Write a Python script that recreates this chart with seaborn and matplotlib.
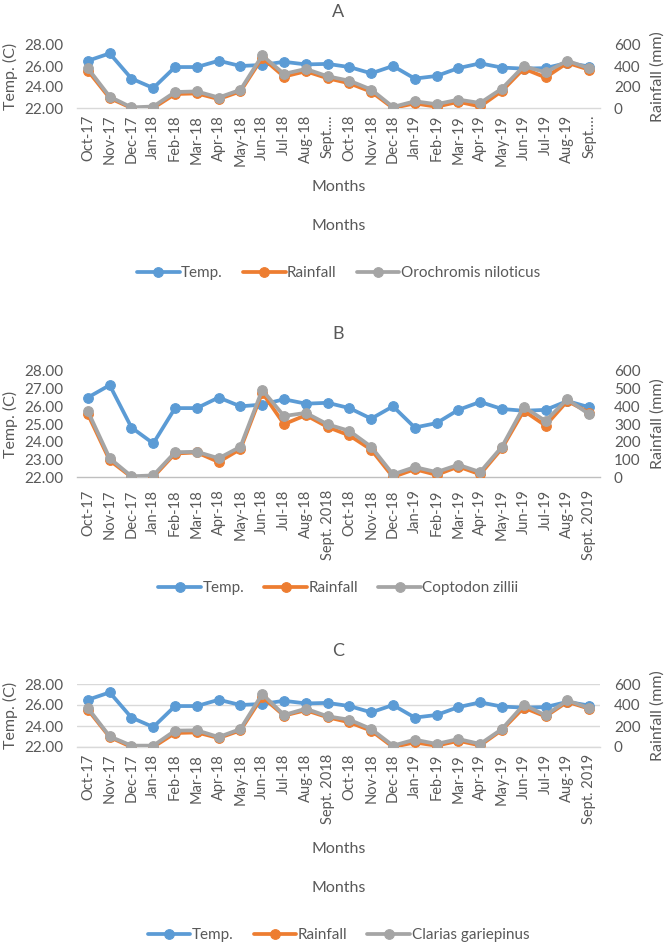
import numpy as np
import pandas as pd
import matplotlib
matplotlib.use("Agg")
import matplotlib.pyplot as plt
import seaborn as sns

# ---------------- data ----------------
months = ["Oct-17", "Nov-17", "Dec-17", "Jan-18", "Feb-18", "Mar-18", "Apr-18",
          "May-18", "Jun-18", "Jul-18", "Aug-18", "Sept. 2018", "Oct-18", "Nov-18",
          "Dec-18", "Jan-19", "Feb-19", "Mar-19", "Apr-19", "May-19", "Jun-19",
          "Jul-19", "Aug-19", "Sept. 2019"]
months_a = ["Oct-17", "Nov-17", "Dec-17", "Jan-18", "Feb-18", "Mar-18", "Apr-18",
            "May-18", "Jun-18", "Jul-18", "Aug-18", "Sept.…", "Oct-18", "Nov-18",
            "Dec-18", "Jan-19", "Feb-19", "Mar-19", "Apr-19", "May-19", "Jun-19",
            "Jul-19", "Aug-19", "Sept.…"]

temp = [26.5, 27.2, 24.8, 23.9, 25.9, 25.9, 26.5, 26.0, 26.1, 26.4, 26.15, 26.2,
        25.9, 25.3, 26.0, 24.8, 25.05, 25.8, 26.25, 25.85, 25.75, 25.8, 26.3, 25.95]
rainfall = [355, 94, 0, 0, 133, 139, 85, 158, 478, 299, 350, 283,
            235, 155, 0, 44, 12, 59, 15, 162, 375, 291, 430, 365]
orochromis = [378, 108, 6, 14, 152, 158, 100, 173, 500, 325, 372, 302,
              260, 176, 10, 64, 36, 80, 48, 185, 398, 340, 450, 378]
coptodon = [372, 106, 4, 9, 140, 143, 106, 171, 493, 345, 363, 298,
            261, 171, 15, 56, 28, 69, 28, 171, 397, 317, 441, 355]
clarias = [371, 101, 13, 13, 156, 159, 95, 171, 505, 305, 365, 292,
           260, 171, 13, 70, 29, 76, 29, 171, 403, 302, 444, 371]

# ---------------- style ----------------
sns.set_theme(style="white")
plt.rcParams["font.family"] = ["Lato", "DejaVu Sans"]

BLUE = "#5B9BD5"
ORANGE = "#ED7D31"
GRAY = "#A5A5A5"
TXT = "#595959"
LINE = "#D9D9D9"

W, H = 672, 944
fig = plt.figure(figsize=(W / 100, H / 100), dpi=100)

left_px, right_px = 77, 600


def rect(top_px, bottom_px):
    return [left_px / W, 1 - bottom_px / H, (right_px - left_px) / W, (bottom_px - top_px) / H]


def panel(top_px, bottom_px, title, title_y, species_name, species_vals, labels,
          temp_ticks, rain_ticks, style, months_ys, legend_y):
    ax = fig.add_axes(rect(top_px, bottom_px))
    ax2 = ax.twinx()
    x = np.arange(len(months))
    df = pd.DataFrame({"idx": x, "Temp.": temp, "Rainfall": rainfall,
                       species_name: species_vals})
    kw = dict(marker="o", markersize=7, linewidth=2.7, legend=False)
    sns.lineplot(data=df, x="idx", y="Temp.", ax=ax, color=BLUE,
                 markeredgecolor=BLUE, **kw)
    sns.lineplot(data=df, x="idx", y="Rainfall", ax=ax2, color=ORANGE,
                 markeredgecolor=ORANGE, **kw)
    sns.lineplot(data=df, x="idx", y=species_name, ax=ax2, color=GRAY,
                 markeredgecolor=GRAY, **kw)

    ax.set_xlim(-0.5, len(months) - 0.5)
    ax.set_ylim(22, 28)
    ax2.set_ylim(0, 600)
    ax.set_yticks(temp_ticks)
    ax.set_yticklabels([f"{t:.2f}" for t in temp_ticks])
    ax2.set_yticks(rain_ticks)
    ax2.set_yticklabels([f"{r:d}" for r in rain_ticks])
    ax.set_xticks(x)
    ax.set_xticklabels(labels, rotation=90)

    ax.tick_params(axis="y", length=0, pad=10, labelcolor=TXT, labelsize=11)
    ax2.tick_params(axis="y", length=0, pad=10, labelcolor=TXT, labelsize=11)
    ax.tick_params(axis="x", length=0, pad=5, labelcolor=TXT, labelsize=10.5)

    for a in (ax, ax2):
        for s in a.spines.values():
            s.set_visible(False)
    ax.spines["bottom"].set_visible(True)
    ax.spines["bottom"].set_color(LINE)
    ax.spines["bottom"].set_linewidth(1.0)

    if style == "grid":
        ax.yaxis.grid(True, color=LINE, linewidth=1.0)
        ax.set_axisbelow(True)
    elif style == "ticks":
        ax.spines["bottom"].set_color("#BFBFBF")
        ax.set_xticks(np.arange(-0.5, len(months), 1.0), minor=True)
        ax.tick_params(axis="x", which="minor", length=5, width=1.0,
                       color="#BFBFBF", direction="out")
        ax.tick_params(axis="x", which="major", pad=9)

    ax.set_xlabel("")
    ax.set_ylabel("Temp. (C)", color=TXT, fontsize=11.5)
    ax.yaxis.label.set_va("center")
    ax.yaxis.set_label_coords((10 - left_px) / (right_px - left_px), 0.5)
    ax2.set_ylabel("Rainfall (mm)", color=TXT, fontsize=11.5, rotation=90)
    ax2.yaxis.label.set_va("center")
    ax2.yaxis.set_label_coords((658 - left_px) / (right_px - left_px), 0.5)

    cx = (left_px + right_px) / 2 / W
    fig.text(cx, 1 - title_y / H, title, ha="center", va="center",
             color=TXT, fontsize=13)
    for my in months_ys:
        fig.text(cx, 1 - my / H, "Months", ha="center", va="center",
                 color=TXT, fontsize=11.5)

    handles = [ax.lines[0], ax2.lines[0], ax2.lines[1]]
    fig.legend(handles, ["Temp.", "Rainfall", species_name], loc="center",
               bbox_to_anchor=(cx, 1 - legend_y / H), ncol=3, frameon=False,
               fontsize=11, handlelength=2.8, handletextpad=0.1,
               columnspacing=1.3, labelcolor=TXT, numpoints=1)
    return ax, ax2


panel(45, 108, "A", 12, "Orochromis niloticus", orochromis, months_a,
      [22, 24, 26, 28], [0, 200, 400, 600], "plain", [187, 226], 273)
panel(371, 477, "B", 334, "Coptodon zillii", coptodon, months,
      [22, 23, 24, 25, 26, 27, 28], [0, 100, 200, 300, 400, 500, 600],
      "ticks", [], 588)
panel(684, 747, "C", 651, "Clarias gariepinus", clarias, months,
      [22, 24, 26, 28], [0, 200, 400, 600], "grid", [849, 888], 935)

fig.savefig("out.png", dpi=100, facecolor="white")
